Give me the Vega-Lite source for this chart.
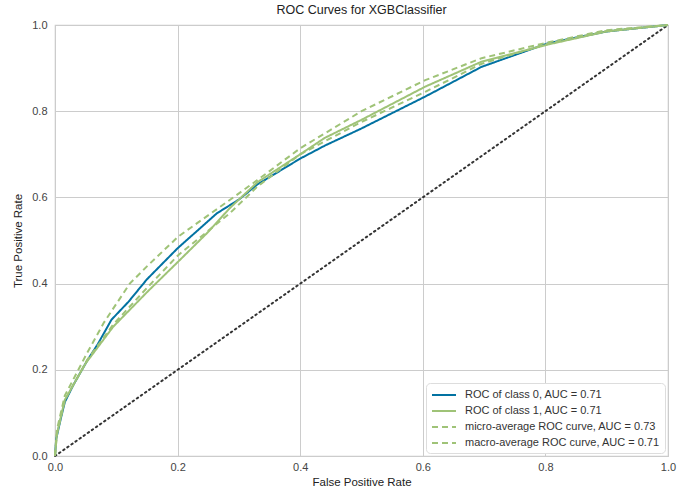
{
  "$schema": "https://vega.github.io/schema/vega-lite/v6.json",
  "autosize": {"type": "none"},
  "width": 613,
  "height": 431,
  "padding": {"left": 55, "top": 25, "right": 12, "bottom": 39},
  "background": "white",
  "title": {"text": "ROC Curves for XGBClassifier", "font": "Liberation Sans", "fontSize": 12.5, "fontWeight": "normal", "color": "#222", "offset": 3},
  "config": {
    "view": {"stroke": "#cccccc", "strokeWidth": 1.2},
    "axis": {"gridColor": "#cccccc", "gridWidth": 1, "domain": false, "ticks": false, "labelFlush": false, "labelFont": "Liberation Sans", "labelFontSize": 11, "labelColor": "#444", "titleFont": "Liberation Sans", "titleFontSize": 11.5, "titleFontWeight": "normal", "titleColor": "#222"},
    "legend": {"labelFont": "Liberation Sans", "labelFontSize": 11, "labelColor": "#333"}
  },
  "layer": [
    {
      "data": {"values": [{"fpr": 0, "tpr": 0}, {"fpr": 1, "tpr": 1}]},
      "mark": {"type": "line", "color": "#333333", "strokeWidth": 2, "strokeDash": [1.5, 3.5], "strokeCap": "round"},
      "encoding": {
        "x": {"field": "fpr", "type": "quantitative"},
        "y": {"field": "tpr", "type": "quantitative"}
      }
    },
    {
      "data": {"values": [
        {"series": "ROC of class 0, AUC = 0.71", "o": 0, "fpr": 0, "tpr": 0},
        {"series": "ROC of class 0, AUC = 0.71", "o": 1, "fpr": 0.002, "tpr": 0.04},
        {"series": "ROC of class 0, AUC = 0.71", "o": 2, "fpr": 0.01, "tpr": 0.09},
        {"series": "ROC of class 0, AUC = 0.71", "o": 3, "fpr": 0.016, "tpr": 0.125},
        {"series": "ROC of class 0, AUC = 0.71", "o": 4, "fpr": 0.03, "tpr": 0.165},
        {"series": "ROC of class 0, AUC = 0.71", "o": 5, "fpr": 0.052, "tpr": 0.22},
        {"series": "ROC of class 0, AUC = 0.71", "o": 6, "fpr": 0.07, "tpr": 0.26},
        {"series": "ROC of class 0, AUC = 0.71", "o": 7, "fpr": 0.092, "tpr": 0.316},
        {"series": "ROC of class 0, AUC = 0.71", "o": 8, "fpr": 0.12, "tpr": 0.358},
        {"series": "ROC of class 0, AUC = 0.71", "o": 9, "fpr": 0.15, "tpr": 0.41},
        {"series": "ROC of class 0, AUC = 0.71", "o": 10, "fpr": 0.2, "tpr": 0.482},
        {"series": "ROC of class 0, AUC = 0.71", "o": 11, "fpr": 0.264, "tpr": 0.563},
        {"series": "ROC of class 0, AUC = 0.71", "o": 12, "fpr": 0.3, "tpr": 0.595},
        {"series": "ROC of class 0, AUC = 0.71", "o": 13, "fpr": 0.33, "tpr": 0.63},
        {"series": "ROC of class 0, AUC = 0.71", "o": 14, "fpr": 0.4, "tpr": 0.69},
        {"series": "ROC of class 0, AUC = 0.71", "o": 15, "fpr": 0.44, "tpr": 0.72},
        {"series": "ROC of class 0, AUC = 0.71", "o": 16, "fpr": 0.5, "tpr": 0.76},
        {"series": "ROC of class 0, AUC = 0.71", "o": 17, "fpr": 0.604, "tpr": 0.834},
        {"series": "ROC of class 0, AUC = 0.71", "o": 18, "fpr": 0.696, "tpr": 0.903},
        {"series": "ROC of class 0, AUC = 0.71", "o": 19, "fpr": 0.805, "tpr": 0.958},
        {"series": "ROC of class 0, AUC = 0.71", "o": 20, "fpr": 0.9, "tpr": 0.985},
        {"series": "ROC of class 0, AUC = 0.71", "o": 21, "fpr": 1, "tpr": 1},

        {"series": "ROC of class 1, AUC = 0.71", "o": 0, "fpr": 0, "tpr": 0},
        {"series": "ROC of class 1, AUC = 0.71", "o": 1, "fpr": 0.003, "tpr": 0.05},
        {"series": "ROC of class 1, AUC = 0.71", "o": 2, "fpr": 0.016, "tpr": 0.13},
        {"series": "ROC of class 1, AUC = 0.71", "o": 3, "fpr": 0.05, "tpr": 0.215},
        {"series": "ROC of class 1, AUC = 0.71", "o": 4, "fpr": 0.095, "tpr": 0.30},
        {"series": "ROC of class 1, AUC = 0.71", "o": 5, "fpr": 0.15, "tpr": 0.38},
        {"series": "ROC of class 1, AUC = 0.71", "o": 6, "fpr": 0.201, "tpr": 0.451},
        {"series": "ROC of class 1, AUC = 0.71", "o": 7, "fpr": 0.25, "tpr": 0.52},
        {"series": "ROC of class 1, AUC = 0.71", "o": 8, "fpr": 0.285, "tpr": 0.575},
        {"series": "ROC of class 1, AUC = 0.71", "o": 9, "fpr": 0.33, "tpr": 0.635},
        {"series": "ROC of class 1, AUC = 0.71", "o": 10, "fpr": 0.4, "tpr": 0.70},
        {"series": "ROC of class 1, AUC = 0.71", "o": 11, "fpr": 0.44, "tpr": 0.738},
        {"series": "ROC of class 1, AUC = 0.71", "o": 12, "fpr": 0.5, "tpr": 0.78},
        {"series": "ROC of class 1, AUC = 0.71", "o": 13, "fpr": 0.604, "tpr": 0.857},
        {"series": "ROC of class 1, AUC = 0.71", "o": 14, "fpr": 0.696, "tpr": 0.915},
        {"series": "ROC of class 1, AUC = 0.71", "o": 15, "fpr": 0.805, "tpr": 0.955},
        {"series": "ROC of class 1, AUC = 0.71", "o": 16, "fpr": 0.9, "tpr": 0.985},
        {"series": "ROC of class 1, AUC = 0.71", "o": 17, "fpr": 1, "tpr": 1},

        {"series": "micro-average ROC curve, AUC = 0.73", "o": 0, "fpr": 0, "tpr": 0},
        {"series": "micro-average ROC curve, AUC = 0.73", "o": 1, "fpr": 0.003, "tpr": 0.06},
        {"series": "micro-average ROC curve, AUC = 0.73", "o": 2, "fpr": 0.016, "tpr": 0.14},
        {"series": "micro-average ROC curve, AUC = 0.73", "o": 3, "fpr": 0.052, "tpr": 0.238},
        {"series": "micro-average ROC curve, AUC = 0.73", "o": 4, "fpr": 0.08, "tpr": 0.31},
        {"series": "micro-average ROC curve, AUC = 0.73", "o": 5, "fpr": 0.122, "tpr": 0.40},
        {"series": "micro-average ROC curve, AUC = 0.73", "o": 6, "fpr": 0.15, "tpr": 0.44},
        {"series": "micro-average ROC curve, AUC = 0.73", "o": 7, "fpr": 0.201, "tpr": 0.509},
        {"series": "micro-average ROC curve, AUC = 0.73", "o": 8, "fpr": 0.285, "tpr": 0.594},
        {"series": "micro-average ROC curve, AUC = 0.73", "o": 9, "fpr": 0.33, "tpr": 0.64},
        {"series": "micro-average ROC curve, AUC = 0.73", "o": 10, "fpr": 0.4, "tpr": 0.714},
        {"series": "micro-average ROC curve, AUC = 0.73", "o": 11, "fpr": 0.5, "tpr": 0.80},
        {"series": "micro-average ROC curve, AUC = 0.73", "o": 12, "fpr": 0.604, "tpr": 0.872},
        {"series": "micro-average ROC curve, AUC = 0.73", "o": 13, "fpr": 0.696, "tpr": 0.923},
        {"series": "micro-average ROC curve, AUC = 0.73", "o": 14, "fpr": 0.805, "tpr": 0.96},
        {"series": "micro-average ROC curve, AUC = 0.73", "o": 15, "fpr": 0.9, "tpr": 0.988},
        {"series": "micro-average ROC curve, AUC = 0.73", "o": 16, "fpr": 1, "tpr": 1},

        {"series": "macro-average ROC curve, AUC = 0.71", "o": 0, "fpr": 0, "tpr": 0},
        {"series": "macro-average ROC curve, AUC = 0.71", "o": 1, "fpr": 0.003, "tpr": 0.05},
        {"series": "macro-average ROC curve, AUC = 0.71", "o": 2, "fpr": 0.016, "tpr": 0.13},
        {"series": "macro-average ROC curve, AUC = 0.71", "o": 3, "fpr": 0.052, "tpr": 0.222},
        {"series": "macro-average ROC curve, AUC = 0.71", "o": 4, "fpr": 0.095, "tpr": 0.305},
        {"series": "macro-average ROC curve, AUC = 0.71", "o": 5, "fpr": 0.15, "tpr": 0.39},
        {"series": "macro-average ROC curve, AUC = 0.71", "o": 6, "fpr": 0.201, "tpr": 0.466},
        {"series": "macro-average ROC curve, AUC = 0.71", "o": 7, "fpr": 0.285, "tpr": 0.563},
        {"series": "macro-average ROC curve, AUC = 0.71", "o": 8, "fpr": 0.33, "tpr": 0.625},
        {"series": "macro-average ROC curve, AUC = 0.71", "o": 9, "fpr": 0.4, "tpr": 0.70},
        {"series": "macro-average ROC curve, AUC = 0.71", "o": 10, "fpr": 0.44, "tpr": 0.73},
        {"series": "macro-average ROC curve, AUC = 0.71", "o": 11, "fpr": 0.5, "tpr": 0.775},
        {"series": "macro-average ROC curve, AUC = 0.71", "o": 12, "fpr": 0.604, "tpr": 0.845},
        {"series": "macro-average ROC curve, AUC = 0.71", "o": 13, "fpr": 0.696, "tpr": 0.91},
        {"series": "macro-average ROC curve, AUC = 0.71", "o": 14, "fpr": 0.805, "tpr": 0.957},
        {"series": "macro-average ROC curve, AUC = 0.71", "o": 15, "fpr": 0.9, "tpr": 0.986},
        {"series": "macro-average ROC curve, AUC = 0.71", "o": 16, "fpr": 1, "tpr": 1}
      ]},
      "mark": {"type": "line", "strokeWidth": 2},
      "encoding": {
        "x": {"field": "fpr", "type": "quantitative", "scale": {"domain": [0, 1], "nice": false}, "axis": {"title": "False Positive Rate", "values": [0, 0.2, 0.4, 0.6, 0.8, 1], "format": ".1f", "labelPadding": 5, "titlePadding": 4}},
        "y": {"field": "tpr", "type": "quantitative", "scale": {"domain": [0, 1], "nice": false}, "axis": {"title": "True Positive Rate", "values": [0, 0.2, 0.4, 0.6, 0.8, 1], "format": ".1f", "labelPadding": 8, "titlePadding": 8}},
        "order": {"field": "o", "type": "quantitative"},
        "color": {"field": "series", "type": "nominal", "title": null,
          "scale": {"domain": ["ROC of class 0, AUC = 0.71", "ROC of class 1, AUC = 0.71", "micro-average ROC curve, AUC = 0.73", "macro-average ROC curve, AUC = 0.71"], "range": ["#0272a2", "#9fc377", "#9fc377", "#9fc377"]},
          "legend": {"orient": "bottom-right", "offset": 3, "symbolType": "M-2,0H2", "symbolSize": 144, "symbolOffset": 6, "symbolStrokeWidth": 2, "fillColor": "white", "strokeColor": "#dddddd", "cornerRadius": 4, "padding": 5, "rowPadding": 4, "labelOffset": 14, "labelLimit": 300}},
        "strokeDash": {"field": "series", "type": "nominal", "title": null,
          "scale": {"domain": ["ROC of class 0, AUC = 0.71", "ROC of class 1, AUC = 0.71", "micro-average ROC curve, AUC = 0.73", "macro-average ROC curve, AUC = 0.71"], "range": [[1, 0], [1, 0], [6, 4], [6, 4]]}}
      }
    }
  ]
}
